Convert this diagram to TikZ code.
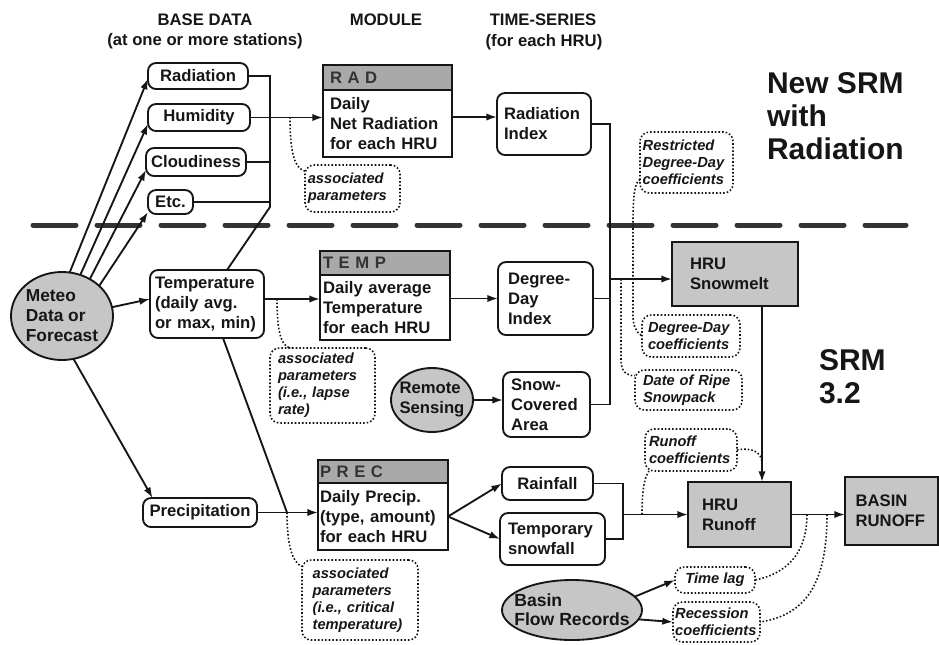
\documentclass[tikz,border=0pt]{standalone}
\usepackage{fontspec}
\setmainfont{Liberation Sans}
\usetikzlibrary{arrows.meta,shapes.geometric}
\hyphenpenalty=10000
\exhyphenpenalty=10000
\definecolor{ink}{HTML}{161616}
\definecolor{fillg}{HTML}{C6C6C6}
\definecolor{hdrg}{HTML}{A9A9A9}
\begin{document}
\begin{tikzpicture}[x=0.75pt,y=-0.75pt,
  every node/.style={inner sep=0pt, outer sep=0pt},
  txt/.style={font=\bfseries\fontsize{12.5}{15}\selectfont, text=ink},
  ptxt/.style={font=\bfseries\itshape\fontsize{11}{12.8}\selectfont, text=ink},
  hdr/.style={font=\bfseries\fontsize{12.5}{15}\selectfont, text=ink},
  big/.style={font=\bfseries\fontsize{22.5}{24.5}\selectfont, text=ink, align=left},
  ln/.style={draw=ink, line width=1.4pt},
  arr/.style={ln, -{Latex[length=8pt,width=5.5pt]}},
  dotl/.style={draw=ink, line width=1.2pt, dash pattern=on 1.2pt off 1.5pt},
  sep/.style={draw=black!80, line width=3.75pt, line cap=round, dash pattern=on 32.25pt off 15.75pt},
  rb/.style={txt, draw=ink, line width=1.4pt, rounded corners=6pt},
  pb/.style={ptxt, draw=ink, line width=1.2pt, dash pattern=on 1.2pt off 1.5pt, rounded corners=7pt, align=left},
  mb/.style={txt, draw=ink, line width=1.4pt, align=left},
  mh/.style={mb, fill=hdrg, text=black!80},
  gb/.style={txt, draw=ink, line width=1.4pt, fill=fillg, align=left},
  el/.style={ellipse, draw=ink, line width=1.4pt, fill=fillg},
  wh/.style 2 args={minimum width=#1, minimum height=#2},
]
\useasboundingbox (0,0) rectangle (939,644);

% separator
\coordinate (sepL) at (33,225);
\coordinate (sepR) at (906,225);
\draw[sep] (sepL) -- (sepR);

% headings
\node[hdr] (h1) at (205,20) {BASE DATA};
\node[hdr] (h2) at (205,41) {(at one or more stations)};
\node[hdr] (h3) at (386,20) {MODULE};
\node[hdr] (h4) at (543,20) {TIME-SERIES};
\node[hdr] (h5) at (544,42) {(for each HRU)};
\node[big, anchor=north west] (t1) at (767,73) {New SRM\\with\\Radiation};
\node[big, anchor=north west] (t2) at (819,350) {SRM\\3.2};

% base data
\node[rb, wh={75pt}{19.5pt}] (rad) at (198,76) {Radiation};
\node[rb, wh={76.5pt}{20.25pt}] (hum) at (199,117.5) {Humidity};
\node[rb, wh={75pt}{21pt}] (cloud) at (196,162) {Cloudiness};
\node[rb, wh={33.75pt}{18pt}] (etc) at (170.5,202) {Etc.};
\node[el, wh={76.5pt}{66pt}, label={[txt,font=\bfseries\fontsize{13}{15}\selectfont,align=left]center:{Meteo\\Data or\\Forecast}}] (meteo) at (62,316) {};
\node[rb, align=left, text width=78pt, inner xsep=3.75pt, wh={85.5pt}{51pt}] (temp) at (207,304) {Temperature\\(daily~avg.\\or~max,~min)};
\node[rb, wh={85.5pt}{21.75pt}] (precip) at (200,512.5) {Precipitation};

% modules
\node[mh, text width=86.25pt, inner xsep=5.25pt, minimum height=18.75pt] (radH) at (387.5,77.5) {R A D};
\node[mb, text width=86.25pt, inner xsep=5.25pt, minimum height=50.25pt] (radB) at (387.5,123.5) {Daily\\Net~Radiation\\for~each~HRU};
\node[mh, text width=93pt, inner xsep=2.25pt, minimum height=18pt] (tempH) at (385,263) {T E M P};
\node[mb, text width=93pt, inner xsep=2.25pt, minimum height=48.75pt] (tempB) at (385,307.5) {Daily~average\\Temperature\\for~each~HRU};
\node[mh, text width=94.5pt, inner xsep=1.5pt, minimum height=17.25pt] (precH) at (383,471.5) {P R E C};
\node[mb, text width=94.5pt, inner xsep=1.5pt, minimum height=50.25pt] (precB) at (383,516.5) {Daily~Precip.\\(type,~amount)\\for~each~HRU};

% time series
\node[rb, align=left, text width=60pt, inner xsep=5.25pt, wh={70.5pt}{46.5pt}] (radidx) at (544,124) {Radiation\\Index};
\node[rb, align=left, text width=56.25pt, inner xsep=7.5pt, wh={71.25pt}{54.75pt}] (ddidx) at (545.5,298.5) {Degree-\\Day\\Index};
\node[rb, align=left, text width=53.25pt, inner xsep=6pt, wh={65.25pt}{48.75pt}] (sca) at (546.5,404.5) {Snow-\\Covered\\Area};
\node[el, wh={61.5pt}{48pt}, label={[txt,align=left]center:{Remote\\Sensing}}] (remote) at (432,400) {};
\node[rb, wh={68.25pt}{24.75pt}] (rainfall) at (547.5,483.5) {Rainfall};
\node[rb, align=left, text width=66.75pt, inner xsep=6pt, wh={78.75pt}{39pt}] (tempsnow) at (552.5,539) {Temporary\\snowfall};

% SRM boxes
\node[gb, text width=67.5pt, inner xsep=13.5pt, wh={94.5pt}{48pt}] (snowmelt) at (735,274) {HRU\\Snowmelt};
\node[gb, text width=56.25pt, inner xsep=10.5pt, wh={77.25pt}{48.75pt}] (hrurunoff) at (739.5,514.5) {HRU\\Runoff};
\node[gb, text width=53.75pt, inner xsep=8pt, wh={69.75pt}{51pt}] (basin) at (891.5,511) {BASIN\\RUNOFF};
\node[el, wh={105pt}{45pt}, label={[txt,font=\bfseries\fontsize{13.2}{14}\selectfont,align=left]center:{Basin\\Flow Records}}] (basinflow) at (572,610) {};

% parameter boxes
\node[pb, text width=67pt, inner xsep=2.1pt, wh={71.25pt}{35.25pt}] (par1) at (352.5,188.5) {associated\\parameters};
\node[pb, text width=66.75pt, inner xsep=6pt, wh={78.75pt}{56.25pt}] (par2) at (322.5,385.5) {associated\\parameters\\(i.e.,~lapse\\rate)};
\node[pb, text width=71pt, inner xsep=8pt, wh={87pt}{60pt}] (par3) at (360,600) {associated\\parameters\\(i.e.,~critical\\temperature)};
\node[pb, text width=65.75pt, inner xsep=2pt, wh={69.75pt}{45.75pt}] (restr) at (686.5,162.5) {Restricted\\Degree-Day\\coefficients};
\node[pb, text width=64.5pt, inner xsep=4.5pt, wh={73.5pt}{31.5pt}] (ddcoef) at (691,336) {Degree-Day\\coefficients};
\node[pb, text width=68.25pt, inner xsep=6pt, wh={80.25pt}{30pt}] (ripe) at (688.5,390) {Date~of~Ripe\\Snowpack};
\node[pb, text width=63pt, inner xsep=3pt, wh={69pt}{31.5pt}] (runcoef) at (691,450) {Runoff\\coefficients};
\node[pb, align=center, wh={60pt}{19.5pt}] (timelag) at (715,580) {Time lag};
\node[pb, text width=62pt, inner xsep=1.6pt, wh={65.25pt}{30pt}] (recess) at (716.5,622) {Recession\\coefficients};

% junction coordinates
\coordinate (busL) at (270,0);
\coordinate (busLb) at (270,207);
\coordinate (busR) at (610,0);
\coordinate (bj) at (290,117);
\coordinate (tj) at (277,299);
\coordinate (pj) at (287,512.5);
\coordinate (sj) at (610,279);
\coordinate (dj) at (621,279);
\coordinate (rbx) at (623,0);
\coordinate (rcj) at (642,514.5);
\coordinate (rj) at (762,464);
\coordinate (sx) at (762,0);
\coordinate (tlj) at (807,514.5);
\coordinate (rcj2) at (827,514.5);

% meteo fan
\draw[arr] (meteo.80) -- (rad.183);
\draw[arr] (meteo.66) -- (hum.187);
\draw[arr] (meteo.53) -- (cloud.189);
\draw[arr] (meteo.39) -- (etc.204);
\draw[arr] (meteo.10) -- (temp.175);
\draw[arr] (meteo.285) -- (precip.163);

% left bus
\draw[ln] (rad.east) -- (rad.east -| busL) -- (busLb) -- ([xshift=15pt]temp.north);
\draw[ln] (cloud.east) -- (cloud.east -| busL);
\draw[ln] (etc.east) -- (etc.east -| busL);
\draw[arr] (hum.east) -- (hum.east -| radB.west);
\draw[dotl] (bj) .. controls (290,155) and (295,168) .. (par1.160);

% RAD path
\draw[arr] (radB.east |- bj) -- (radidx.west |- bj);
\draw[ln] (radidx.east) -- (radidx.east -| busR) -- (sca.east -| busR) -- (sca.east);
\draw[ln] (ddidx.east) -- (ddidx.east -| busR);
\draw[arr] (sj) -- (snowmelt.west |- sj);

% TEMP path
\draw[arr] (temp.east |- tj) -- (tempB.west |- tj);
\draw[dotl] (tj) .. controls (277,335) and (282,347) .. ([xshift=16pt]par2.north west);
\draw[arr] (tempB.east |- ddidx.west) -- (ddidx.west);
\draw[arr] (remote.east) -- (remote.east -| sca.west);

% PREC path
\draw[arr] (precip.east) -- (precip.east -| precB.west);
\draw[ln] ([xshift=12pt]temp.south) -- (pj);
\draw[dotl] (pj) .. controls (287,545) and (292,562) .. (par3.150);
\draw[arr] (precB.east) -- (rainfall.west);
\draw[arr] (precB.east) -- (tempsnow.west);
\draw[ln] (rainfall.east) -- (rainfall.east -| rbx) -- (tempsnow.east -| rbx) -- (tempsnow.east);
\draw[arr] (hrurunoff.west -| rbx) -- (hrurunoff.west);

% coefficients
\draw[dotl] (restr.200) .. controls (634,182) and (633,200) .. (633,225) -- (633,315) .. controls (633,326) and (636,332) .. (ddcoef.west);
\draw[dotl] (dj) -- (621,360) .. controls (621,372) and (627,376) .. (ripe.165);
\draw[dotl] (rcj) .. controls (642,492) and (644,478) .. ([xshift=3pt]runcoef.south west);
\draw[dotl] (runcoef.east) .. controls (752,447) and (762,452) .. (rj);

% SRM core
\draw[arr] (snowmelt.south -| sx) -- (hrurunoff.north -| sx);
\draw[arr] (hrurunoff.east) -- (hrurunoff.east -| basin.west);
\draw[dotl] (tlj) .. controls (807,555) and (785,574) .. (timelag.east);
\draw[dotl] (rcj2) .. controls (827,585) and (805,615) .. (recess.east);
\draw[arr] (basinflow.12) -- (timelag.west);
\draw[arr] (basinflow.352) -- (recess.west);
\end{tikzpicture}
\end{document}
